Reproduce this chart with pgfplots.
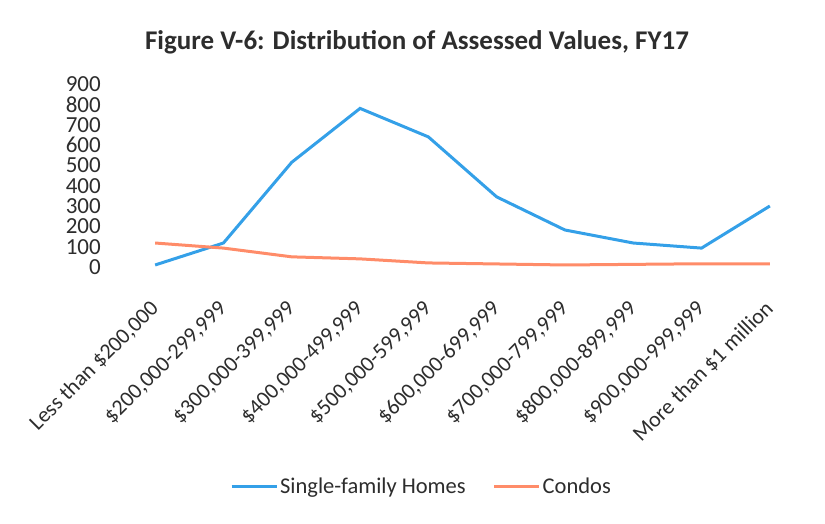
\documentclass[border=0pt]{standalone}
\usepackage{pgfplots}
\pgfplotsset{compat=1.18}
\usepackage{fontspec}
\setmainfont{Carlito}
\definecolor{sfblue}{RGB}{52,160,232}
\definecolor{condo}{RGB}{255,140,105}
\definecolor{txt}{RGB}{45,45,45}
\begin{document}
\begin{tikzpicture}
\begin{axis}[
  at={(0pt,0pt)}, anchor=south west,
  scale only axis, width=683pt, height=183pt,
  xmin=-0.5, xmax=9.5, ymin=0, ymax=900,
  axis line style={draw=none},
  major tick length=0pt,
  ytick={0,100,...,900},
  xtick={0,...,9},
  xticklabels={{Less than \$200,000},{\$200,000-299,999},{\$300,000-399,999},{\$400,000-499,999},{\$500,000-599,999},{\$600,000-699,999},{\$700,000-799,999},{\$800,000-899,999},{\$900,000-999,999},{More than \$1 million}},
  xticklabel style={rotate=45, anchor=east, font=\fontsize{22}{24}\selectfont, color=txt, inner sep=0pt, xshift=-27pt, yshift=-27pt},
  yticklabel style={font=\fontsize{23}{24}\selectfont, color=txt, inner sep=0pt},
  yticklabel shift=20pt,
  /pgf/number format/assume math mode=true,
  legend columns=2,
  legend style={at={(0.44,-1.197)}, anchor=center, draw=none, font=\fontsize{22.5}{24}\selectfont, text=txt, /tikz/every even column/.append style={column sep=25pt}},
  legend image code/.code={\draw[#1, line width=3pt] (0pt,0pt) -- (45pt,0pt);},
]
\addplot[sfblue, line width=3pt] coordinates {(0,10) (1,118) (2,515) (3,780) (4,640) (5,345) (6,182) (7,118) (8,93) (9,300)};
\addlegendentry{Single-family Homes}
\addplot[condo, line width=3pt] coordinates {(0,118) (1,93) (2,50) (3,40) (4,20) (5,15) (6,10) (7,13) (8,16) (9,15)};
\addlegendentry{Condos}
\end{axis}
\node[font=\bfseries\fontsize{27}{30}\selectfont, text=txt] at (296pt,225pt) {Figure V-6: Distribution of Assessed Values, FY17};
\path[use as bounding box] (-121pt,-256pt) rectangle (704pt,267pt);
\end{tikzpicture}
\end{document}
